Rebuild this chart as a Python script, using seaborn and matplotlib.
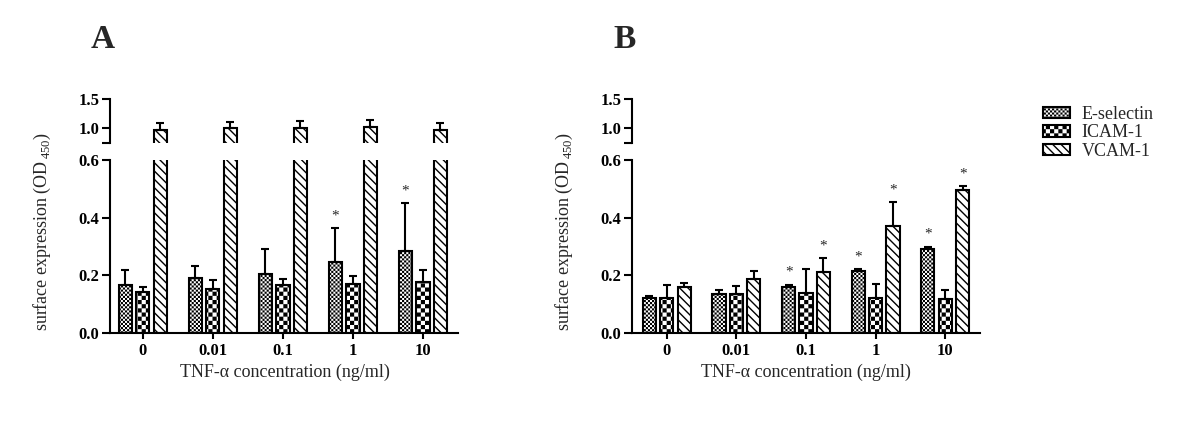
import warnings
import numpy as np
import pandas as pd
import matplotlib
matplotlib.use("Agg")
import matplotlib.pyplot as plt
from matplotlib import hatch as mhatch
from matplotlib.path import Path
from matplotlib.patches import Patch
import seaborn as sns

warnings.filterwarnings("ignore")

# --- datos ---
conc = ["0", "0.01", "0.1", "1", "10"]
markers = ["E-selectin", "ICAM-1", "VCAM-1"]

# panel A
esel_a = [0.167, 0.190, 0.205, 0.245, 0.285]
esel_a_err = [0.051, 0.042, 0.085, 0.118, 0.165]
icam_a = [0.141, 0.154, 0.168, 0.170, 0.178]
icam_a_err = [0.020, 0.030, 0.019, 0.029, 0.040]
vcam_a = [0.97, 1.00, 1.00, 1.02, 0.97]
vcam_a_err = [0.12, 0.10, 0.12, 0.11, 0.12]
stars_a = {"E-selectin": ["1", "10"]}

# panel B
esel_b = [0.122, 0.136, 0.161, 0.214, 0.290]
esel_b_err = [0.008, 0.012, 0.007, 0.009, 0.010]
icam_b = [0.122, 0.136, 0.140, 0.122, 0.119]
icam_b_err = [0.045, 0.027, 0.083, 0.049, 0.029]
vcam_b = [0.158, 0.186, 0.212, 0.372, 0.496]
vcam_b_err = [0.016, 0.029, 0.049, 0.081, 0.014]
stars_b = {"E-selectin": ["0.1", "1", "10"], "VCAM-1": ["0.1", "1", "10"]}

HATCH_LW = 1.0


# patron de tablero de ajedrez ('c') para imitar el estilo de Prism
class CheckerHatch(mhatch.HatchPatternBase):
    def __init__(self, hatch, density):
        self.n = int(hatch.count("c") * density)
        self.cells = [(i, j) for i in range(self.n) for j in range(self.n)
                      if (i + j) % 2 == 0]
        self.num_vertices = len(self.cells) * 5 if self.n else 0

    def set_vertices_and_codes(self, vertices, codes):
        s = 1.0 / self.n
        inset = (HATCH_LW * 100 / 72) / 2 / 100
        inset = min(inset, s * 0.45)
        k = 0
        for i, j in self.cells:
            x0, y0 = i * s + inset, j * s + inset
            x1, y1 = (i + 1) * s - inset, (j + 1) * s - inset
            vertices[k:k + 5] = [(x0, y0), (x1, y0), (x1, y1), (x0, y1), (x0, y0)]
            codes[k:k + 5] = [Path.MOVETO, Path.LINETO, Path.LINETO,
                              Path.LINETO, Path.CLOSEPOLY]
            k += 5


mhatch._hatch_types.append(CheckerHatch)

hatches = {"E-selectin": "cccccccc", "ICAM-1": "cccc", "VCAM-1": "\\\\\\\\"}

sns.set_theme(style="ticks")
plt.rcParams["font.family"] = ["Liberation Serif", "DejaVu Serif"]
plt.rcParams["mathtext.fontset"] = "custom"
plt.rcParams["mathtext.rm"] = "Liberation Serif"
plt.rcParams["axes.edgecolor"] = "black"
plt.rcParams["axes.linewidth"] = 1.5
plt.rcParams["xtick.color"] = "black"
plt.rcParams["ytick.color"] = "black"
plt.rcParams["hatch.linewidth"] = HATCH_LW
plt.rcParams["hatch.color"] = "black"

fig = plt.figure(figsize=(12, 4.25), dpi=100)


def make_df(e, i, v):
    rows = []
    for name, vals in zip(markers, [e, i, v]):
        for c, val in zip(conc, vals):
            rows.append({"conc": c, "marker": name, "value": val})
    return pd.DataFrame(rows)


def dibujar_panel(left, xmin, df, errs, stars, letra, xcenter):
    ax_lo = fig.add_axes([left, 0.2165, 0.29, 0.407])
    ax_hi = fig.add_axes([left, 0.664, 0.29, 0.103])
    for ax in (ax_lo, ax_hi):
        sns.barplot(data=df, x="conc", y="value", hue="marker", order=conc,
                    hue_order=markers, palette=["white"] * 3, edgecolor="black",
                    linewidth=1.5, width=0.75, gap=0.25, errorbar=None,
                    legend=False, ax=ax)
        for name, cont in zip(markers, ax.containers):
            xs, tops = [], []
            for p in cont.patches:
                p.set_hatch(hatches[name])
                xs.append(p.get_x() + p.get_width() / 2)
                tops.append(p.get_height())
            e = errs[name]
            ax.errorbar(xs, tops, yerr=[np.zeros(len(e)), e], fmt="none",
                        ecolor="black", elinewidth=1.5, capsize=3, capthick=1.5)
            if ax is ax_lo and name in stars:
                for c in stars[name]:
                    j = conc.index(c)
                    ax.annotate("*", (xs[j], tops[j] + e[j]), xytext=(0, 4),
                                textcoords="offset points", ha="center",
                                va="bottom", fontsize=11)
        ax.set_xlim(xmin, 4.5)
        ax.set_xlabel("")
        ax.set_ylabel("")
        ax.tick_params(axis="y", length=5.5, width=1.5, pad=2, labelsize=12)
        ax.tick_params(axis="x", length=4, width=1.5, pad=3.5, labelsize=12)
        for lab in ax.get_xticklabels() + ax.get_yticklabels():
            lab.set_fontweight("bold")
        sns.despine(ax=ax)

    ax_lo.set_ylim(0, 0.6)
    ax_lo.set_yticks([0.0, 0.2, 0.4, 0.6])
    ax_lo.set_yticklabels(["0.0", "0.2", "0.4", "0.6"], fontweight="bold")

    ax_hi.set_ylim(0.74, 1.5)
    ax_hi.set_yticks([0.74, 1.0, 1.5])
    ax_hi.set_yticklabels(["", "1.0", "1.5"], fontweight="bold")
    ax_hi.spines["bottom"].set_visible(False)
    ax_hi.tick_params(axis="x", bottom=False, labelbottom=False)

    fig.text(left - 0.056, 0.455, "surface expression (OD$_{\\,450}$)",
             rotation=90, ha="center", va="center", fontsize=13)
    fig.text(xcenter, 0.125, "TNF-\u03b1 concentration (ng/ml)",
             ha="center", va="center", fontsize=13)
    fig.text(left - 0.0065, 0.908, letra, ha="center", va="center",
             fontsize=24, fontweight="bold")


errs_a = {"E-selectin": esel_a_err, "ICAM-1": icam_a_err, "VCAM-1": vcam_a_err}
errs_b = {"E-selectin": esel_b_err, "ICAM-1": icam_b_err, "VCAM-1": vcam_b_err}

dibujar_panel(110 / 1200, -0.47, make_df(esel_a, icam_a, vcam_a), errs_a,
              stars_a, "A", 285 / 1200)
dibujar_panel(632 / 1200, -0.5, make_df(esel_b, icam_b, vcam_b), errs_b,
              stars_b, "B", 806 / 1200)

handles = [Patch(facecolor="white", edgecolor="black", linewidth=1.5,
                 hatch=hatches[m], label=m) for m in markers]
fig.legend(handles=handles, loc="upper left",
           bbox_to_anchor=(1043 / 1200, (425 - 106) / 425), frameon=False,
           fontsize=13, handlelength=1.5, handleheight=0.6, handletextpad=0.65,
           labelspacing=0.08, borderpad=0, borderaxespad=0)

fig.savefig("out.png", dpi=100)
print("listo")
